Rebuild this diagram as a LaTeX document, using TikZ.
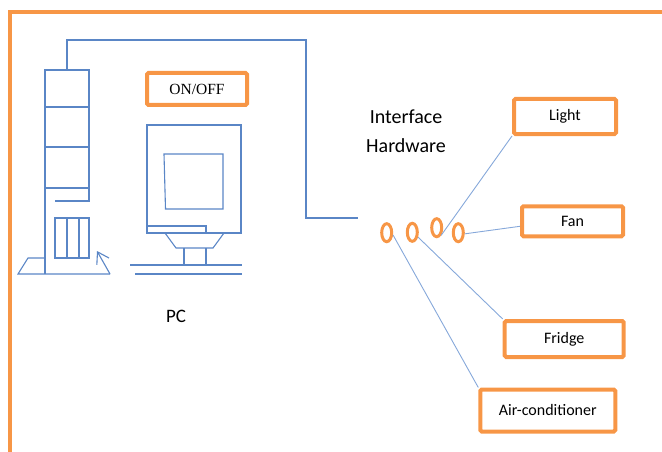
\documentclass[tikz,border=0pt]{standalone}
\usepackage{fontspec}
\setmainfont{Carlito}
\newfontfamily\switchfont{Liberation Serif}
\usetikzlibrary{shapes.geometric,arrows.meta}

\definecolor{frameorange}{HTML}{F79646}
\definecolor{pcblue}{HTML}{5A86C6}
\definecolor{wireblue}{HTML}{86A8DA}

\tikzset{
  device/.style={draw=frameorange,line width=4pt,rounded corners=1.5pt,
    inner sep=0pt,font=\fontsize{16}{18}\selectfont},
  port/.style={draw=frameorange,ellipse,line width=3pt,inner sep=0pt,
    minimum width=10pt,minimum height=18pt},
  wire/.style={wireblue,line width=0.9pt},
  pcline/.style={pcblue,line width=1.1pt}
}

\begin{document}
\begin{tikzpicture}[x=1pt,y=-1pt]
\useasboundingbox (0,0) rectangle (662,452);

% Outer frame, runs off the page at the right and bottom.
\draw[frameorange,line width=4pt] (10,470) -- (10,12) -- (680,12);

% Tower case: drive bays, drawer block and foot.
\draw[pcline] (45,274) -- (45,70) -- (89,70) -- (89,201) -- (55,201);
\foreach \y in {107,147,188}
  \draw[pcline] (45,\y) -- (89,\y);
\draw[pcline] (55,218) rectangle (89,258);
\foreach \x in {67,79}
  \draw[pcline] (\x,218) -- (\x,258);
\draw[pcline] (45,258) -- (28,258) -- (18,274) -- (110,274);
\draw[pcline,-{Straight Barb[length=11pt,width=14pt]}] (110,274) -- (97,251);

% Monitor on its stand.
\draw[pcline] (147,125) rectangle (241,233);
\draw[pcline] (164,154) -- (223,154) -- (223,209) -- (165.5,209) -- cycle;
\draw[pcline] (147,226) -- (206,226) -- (206,233);
\draw[pcline] (165,233) -- (176,248) -- (213,248) -- (224,233);
\foreach \x in {184,206}
  \draw[pcline] (\x,248) -- (\x,265);
\draw[pcline] (130,265) -- (242,265);
\draw[pcline] (135,274) -- (242,274);

\node[font=\fontsize{19}{21}\selectfont] (pclabel) at (176,316) {PC};
\node[device,font=\switchfont\fontsize{15.5}{18}\selectfont,
  minimum width=100pt,minimum height=32pt] (onoff) at (197,89) {ON/OFF};

% Cable from the tower to the interface.
\coordinate (towertop) at (67,70);
\coordinate (cableend) at (358,218);
\draw[pcline] (towertop) |- (306,40) |- (cableend);

\node[align=center,font=\fontsize{20}{29}\selectfont] (iface) at (406,131)
  {Interface\\Hardware};

% Output ports of the interface.
\foreach \i/\x/\y in {1/386.7/232.7,2/412.3/232.3,3/436.7/227.7,4/458.3/232.7}
  \node[port] (port\i) at (\x,\y) {};

% Appliances.
\node[device,minimum width=102pt,minimum height=35pt] (light) at (565,116.5) {Light};
\node[device,minimum width=101pt,minimum height=30pt] (fan) at (572.5,221.3) {Fan};
\node[device,minimum width=119pt,minimum height=36pt] (fridge) at (564.2,339) {Fridge};
\node[device,minimum width=135pt,minimum height=42pt] (aircon) at (547.8,410.5) {Air-conditioner};

\draw[wire] (port3.-60) -- (light.south west);
\draw[wire] (port4.-10) -- ([yshift=-5pt]fan.west);
\draw[wire] (port2.-40) -- (fridge.north west);
\draw[wire] (port1.-20) -- (aircon.north west);
\end{tikzpicture}
\end{document}
